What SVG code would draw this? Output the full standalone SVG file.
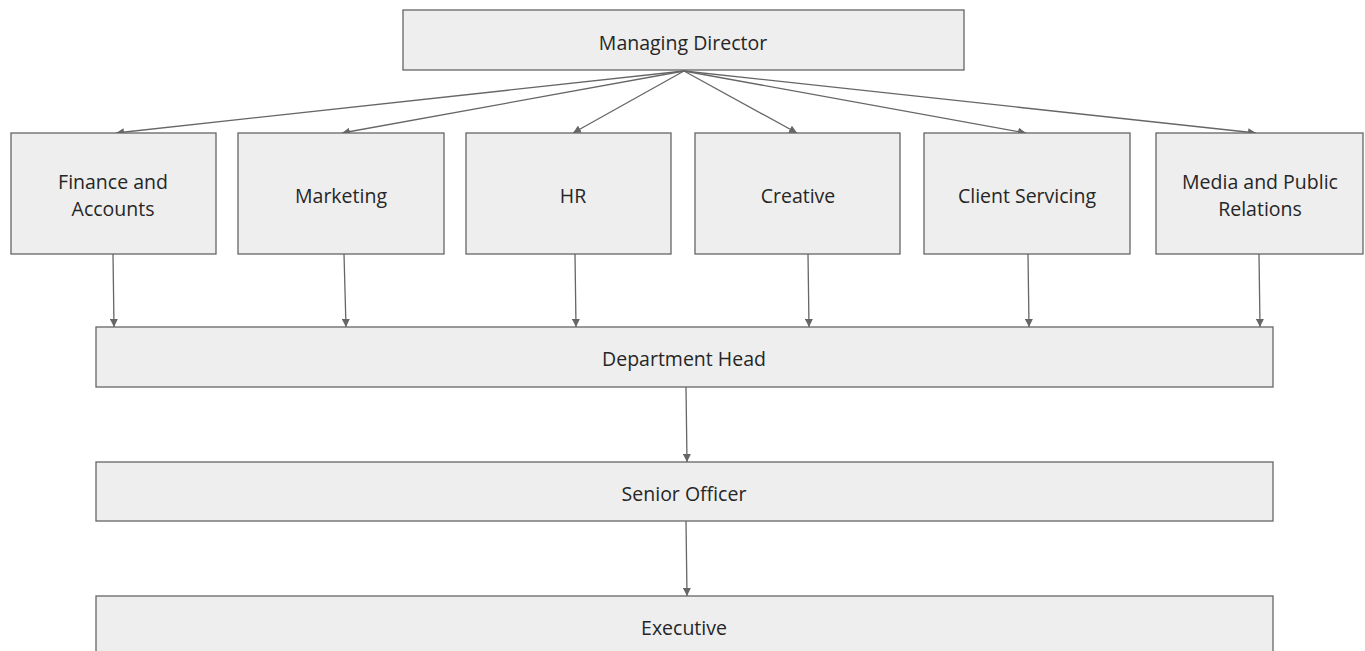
<svg xmlns="http://www.w3.org/2000/svg" width="1365" height="651" viewBox="0 0 1365 651">
<style>
.box{fill:#eeeeee;stroke:#666666;stroke-width:1.3}
.lbl{font-family:"Open Sans","Noto Sans",sans-serif;font-size:19.5px;fill:#262626;text-anchor:middle;dominant-baseline:central}
.con{stroke:#666666;stroke-width:1.3;fill:none;marker-end:url(#ah)}
</style>
<defs>
<marker id="ah" viewBox="0 0 10 10" refX="10" refY="5" markerWidth="8" markerHeight="8" markerUnits="userSpaceOnUse" orient="auto">
<path d="M0,0 L10,5 L0,10 z" fill="#666666"/>
</marker>
</defs>
<rect width="1365" height="651" fill="#ffffff"/>
<g id="connectors">
<line class="con" x1="684" y1="71" x2="116" y2="133"/>
<line class="con" x1="684" y1="71" x2="342" y2="133"/>
<line class="con" x1="684" y1="71" x2="573" y2="133"/>
<line class="con" x1="684" y1="71" x2="797" y2="133"/>
<line class="con" x1="684" y1="71" x2="1026" y2="133"/>
<line class="con" x1="684" y1="71" x2="1256" y2="133"/>
<line class="con" x1="113" y1="254" x2="114" y2="327"/>
<line class="con" x1="344" y1="254" x2="346" y2="327"/>
<line class="con" x1="575" y1="254" x2="576" y2="327"/>
<line class="con" x1="808" y1="254" x2="809" y2="327"/>
<line class="con" x1="1028" y1="254" x2="1029" y2="327"/>
<line class="con" x1="1259" y1="254" x2="1260" y2="327"/>
<line class="con" x1="686" y1="387" x2="687" y2="462"/>
<line class="con" x1="686" y1="521" x2="687" y2="596"/>
</g>
<g id="managing-director">
<rect class="box" x="403" y="10" width="561" height="60"/>
<text class="lbl" x="683" y="42">Managing Director</text>
</g>
<g id="finance">
<rect class="box" x="11" y="133" width="205" height="121"/>
<text class="lbl" x="113" y="181">Finance and</text>
<text class="lbl" x="113" y="208">Accounts</text>
</g>
<g id="marketing">
<rect class="box" x="238" y="133" width="206" height="121"/>
<text class="lbl" x="341" y="195">Marketing</text>
</g>
<g id="hr">
<rect class="box" x="466" y="133" width="205" height="121"/>
<text class="lbl" x="573" y="195">HR</text>
</g>
<g id="creative">
<rect class="box" x="695" y="133" width="205" height="121"/>
<text class="lbl" x="798" y="195">Creative</text>
</g>
<g id="client-servicing">
<rect class="box" x="924" y="133" width="206" height="121"/>
<text class="lbl" x="1027" y="195">Client Servicing</text>
</g>
<g id="media">
<rect class="box" x="1156" y="133" width="207" height="121"/>
<text class="lbl" x="1260" y="181">Media and Public</text>
<text class="lbl" x="1260" y="208">Relations</text>
</g>
<g id="department-head">
<rect class="box" x="96" y="327" width="1177" height="60"/>
<text class="lbl" x="684" y="358">Department Head</text>
</g>
<g id="senior-officer">
<rect class="box" x="96" y="462" width="1177" height="59"/>
<text class="lbl" x="684" y="493">Senior Officer</text>
</g>
<g id="executive">
<rect class="box" x="96" y="596" width="1177" height="70"/>
<text class="lbl" x="684" y="627">Executive</text>
</g>
</svg>
